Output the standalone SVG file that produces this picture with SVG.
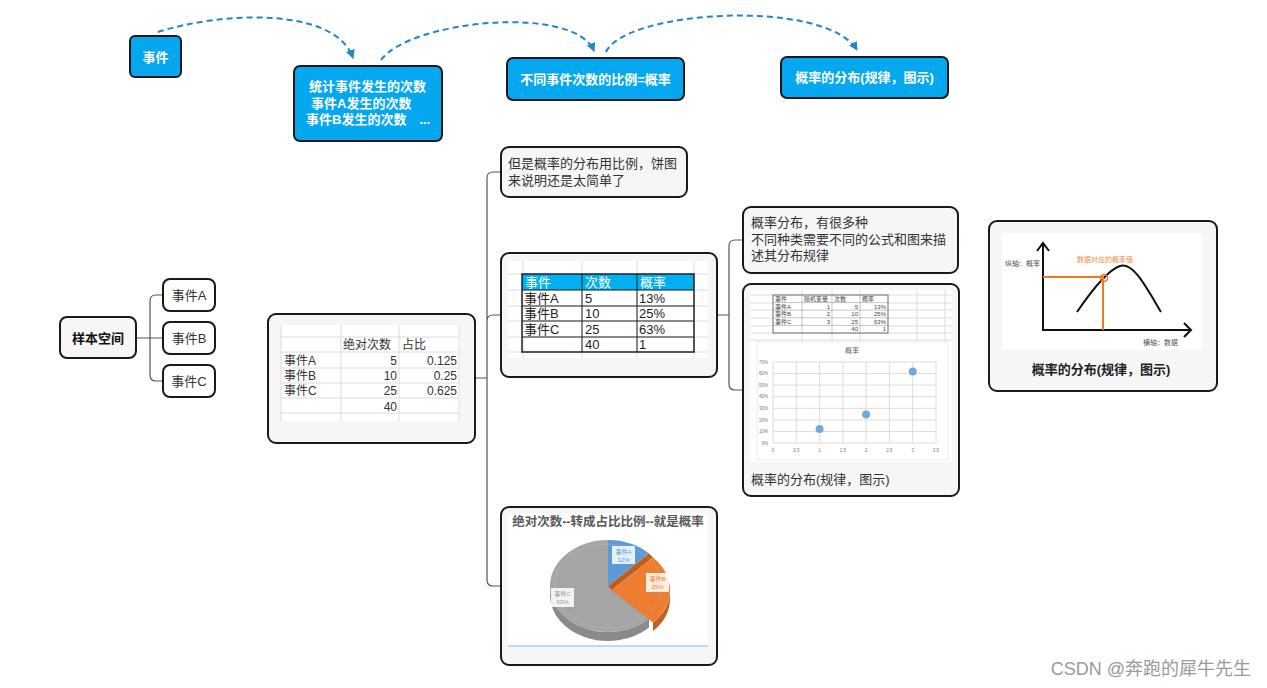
<svg xmlns="http://www.w3.org/2000/svg" width="1267" height="688" viewBox="0 0 1267 688">
<style>
text{font-family:"Liberation Sans","Noto Sans CJK SC",sans-serif;}
.blue{fill:#05A8EF;stroke:#1a1a1a;stroke-width:2;}
.bt{fill:#fff;font-size:13px;font-weight:bold;}
.gn{fill:#F6F6F6;stroke:#1a1a1a;stroke-width:2;}
.wn{fill:#fff;stroke:#1a1a1a;stroke-width:2;}
.t13{fill:#333;font-size:13px;}
.t12{fill:#333;font-size:12px;}
.grid{stroke:#DCDCDC;stroke-width:1;fill:none;}
.conn{fill:none;stroke:#555;stroke-width:1.2;}
.dash{fill:none;stroke:#1F86C9;stroke-width:2;stroke-dasharray:6 4;}
.tiny{fill:#444;font-size:6px;}
.ax{fill:#777;font-size:4.5px;}
</style>
<defs>
<marker id="ah" markerWidth="9" markerHeight="9" refX="8" refY="4.5" orient="auto" markerUnits="userSpaceOnUse">
<path d="M0,0 L9,4.5 L0,9 z" fill="#1F86C9"/>
</marker>
</defs>
<rect width="1267" height="688" fill="#fff"/>

<g id="connectors">
<path class="dash" d="M158,32 C220,12 335,6 353,58" marker-end="url(#ah)"/>
<path class="dash" d="M381,60 C410,20 575,4 594,51" marker-end="url(#ah)"/>
<path class="dash" d="M606,52 C625,10 825,-2 857,50" marker-end="url(#ah)"/>
<path class="conn" d="M136,338 H150 M163,295 H156 Q150,295 150,301 V375 Q150,381 156,381 H163 M150,338 H163"/>
<path class="conn" d="M475,378 H487 M501,172 H493 Q487,172 487,178 V580 Q487,586 493,586 H501 M487,321 Q487,315 493,315 H501"/>
<path class="conn" d="M717,315 H729 M743,240 H735 Q729,240 729,246 V384 Q729,390 735,390 H743"/>
</g>

<g id="node-shijian">
<rect class="blue" x="130" y="36" width="51" height="41" rx="5"/>
<text class="bt" x="155.5" y="61.5" text-anchor="middle">事件</text>
</g>
<g id="node-tongji">
<rect class="blue" x="294" y="66" width="148" height="75" rx="6"/>
<text class="bt" x="309" y="91">统计事件发生的次数</text>
<text class="bt" x="311" y="108">事件A发生的次数</text>
<text class="bt" x="306" y="124">事件B发生的次数　...</text>
</g>
<g id="node-bili">
<rect class="blue" x="507" y="58" width="177" height="42" rx="6"/>
<text class="bt" x="595.5" y="83.5" text-anchor="middle">不同事件次数的比例=概率</text>
</g>
<g id="node-fenbu-top">
<rect class="blue" x="781" y="57" width="167" height="41" rx="6"/>
<text class="bt" x="864.5" y="82" text-anchor="middle">概率的分布(规律，图示)</text>
</g>

<g id="node-yangben">
<rect class="gn" x="60" y="317" width="76" height="41" rx="7"/>
<text x="98" y="342.5" text-anchor="middle" style="font-size:13px;font-weight:bold;fill:#111">样本空间</text>
</g>
<g id="node-a">
<rect class="wn" x="163" y="279" width="52" height="32" rx="7"/>
<text class="t13" x="189" y="299.5" text-anchor="middle">事件A</text>
</g>
<g id="node-b">
<rect class="wn" x="163" y="322" width="52" height="32" rx="7"/>
<text class="t13" x="189" y="342.5" text-anchor="middle">事件B</text>
</g>
<g id="node-c">
<rect class="wn" x="163" y="365" width="52" height="32" rx="7"/>
<text class="t13" x="189" y="385.5" text-anchor="middle">事件C</text>
</g>

<g id="node-table1">
<rect class="gn" x="268" y="314" width="207" height="129" rx="8"/>
<rect x="281" y="325" width="179" height="96" fill="#fff"/>
<path class="grid" d="M281,325 V421 M341,325 V421 M399,325 V421 M459,325 V421 M281,337 H459 M281,352 H459 M281,368 H459 M281,383 H459 M281,398 H459 M281,413 H459"/>
<text class="t12" x="343" y="349">绝对次数</text>
<text class="t12" x="402" y="349">占比</text>
<text class="t12" x="284" y="365">事件A</text>
<text class="t12" x="284" y="380">事件B</text>
<text class="t12" x="284" y="395">事件C</text>
<text class="t12" x="397" y="365" text-anchor="end">5</text>
<text class="t12" x="397" y="380" text-anchor="end">10</text>
<text class="t12" x="397" y="395" text-anchor="end">25</text>
<text class="t12" x="397" y="411" text-anchor="end">40</text>
<text class="t12" x="457" y="365" text-anchor="end">0.125</text>
<text class="t12" x="457" y="380" text-anchor="end">0.25</text>
<text class="t12" x="457" y="395" text-anchor="end">0.625</text>
</g>

<g id="node-note1">
<rect class="gn" x="501" y="147" width="186" height="50" rx="8"/>
<text class="t13" x="508" y="168">但是概率的分布用比例，饼图</text>
<text class="t13" x="508" y="185">来说明还是太简单了</text>
</g>

<g id="node-table2">
<rect class="gn" x="501" y="253" width="216" height="124" rx="8"/>
<rect x="508" y="261" width="200" height="97" fill="#fff"/>
<path class="grid" d="M523,261 V358 M582,261 V358 M637,261 V358 M694,261 V358 M508,274 H708 M508,290 H708 M508,306 H708 M508,321 H708 M508,337 H708 M508,352 H708"/>
<rect x="522" y="274" width="172" height="16" fill="#00B0F0"/>
<path d="M522,290 H694 M522,306 H694 M522,321 H694 M522,337 H694 M582,274 V352 M637,274 V352" stroke="#222" stroke-width="1" fill="none"/>
<rect x="522" y="274" width="172" height="78" fill="none" stroke="#222" stroke-width="1.5"/>
<text x="525" y="287" style="font-size:13px;fill:#fff">事件</text>
<text x="585" y="287" style="font-size:13px;fill:#fff">次数</text>
<text x="640" y="287" style="font-size:13px;fill:#fff">概率</text>
<text class="t13" x="524" y="303" style="fill:#222">事件A</text>
<text class="t13" x="524" y="318" style="fill:#222">事件B</text>
<text class="t13" x="524" y="334" style="fill:#222">事件C</text>
<text class="t13" x="585" y="303" style="fill:#222">5</text>
<text class="t13" x="585" y="318" style="fill:#222">10</text>
<text class="t13" x="585" y="334" style="fill:#222">25</text>
<text class="t13" x="585" y="349" style="fill:#222">40</text>
<text class="t13" x="639" y="303" style="fill:#222">13%</text>
<text class="t13" x="639" y="318" style="fill:#222">25%</text>
<text class="t13" x="639" y="334" style="fill:#222">63%</text>
<text class="t13" x="639" y="349" style="fill:#222">1</text>
</g>

<g id="node-pie">
<rect class="gn" x="501" y="507" width="216" height="158" rx="8"/>
<rect x="508" y="513" width="200" height="133" fill="#fff"/>
<line x1="508" y1="646" x2="708" y2="646" stroke="#9DD5F7" stroke-width="1.5"/>
<text x="608" y="526" text-anchor="middle" style="font-size:12.5px;font-weight:bold;fill:#595959">绝对次数--转成占比比例--就是概率</text>
<path d="M649,618.5 A58,46 0 0 1 550,586 V595 A58,46 0 0 0 649,627.5 Z" fill="#8A8A8A"/>
<path d="M608,586 L649,618.5 A58,46 0 1 1 608,540 Z" fill="#A5A5A5"/>
<path d="M608,586 L608,540 A58,46 0 0 1 649,553.5 Z" fill="#5B9BD5"/>
<path d="M608,586 L649,553.5 L653,557.5 L612,590 Z" fill="#BE5E1C"/>
<path d="M608,586 L649,618.5 L653,622.5 L612,590 Z" fill="#D9701F"/>
<path d="M670,590 A58,46 0 0 1 653,622.5 V631 A58,46 0 0 0 670,598.5 Z" fill="#C0611F"/>
<path d="M612,590 L653,557.5 A58,46 0 0 1 653,622.5 Z" fill="#ED7D31"/>
<ellipse cx="608" cy="586" rx="54" ry="42" fill="none" stroke="#c4c4c4" stroke-width="0.6" opacity="0.5"/>
<rect x="612" y="546" width="23" height="18" fill="#fff" opacity="0.85"/>
<text x="623.5" y="553.5" text-anchor="middle" style="font-size:6px;fill:#5B9BD5">事件A</text>
<text x="623.5" y="561.5" text-anchor="middle" style="font-size:6px;fill:#5B9BD5">12%</text>
<rect x="646" y="573" width="23" height="19" fill="#fff" opacity="0.85"/>
<text x="657.5" y="580.5" text-anchor="middle" style="font-size:6px;fill:#ED7D31">事件B</text>
<text x="657.5" y="589" text-anchor="middle" style="font-size:6px;fill:#ED7D31">25%</text>
<rect x="551" y="588" width="23" height="19" fill="#fff" opacity="0.85"/>
<text x="562.5" y="595.5" text-anchor="middle" style="font-size:6px;fill:#999">事件C</text>
<text x="562.5" y="604" text-anchor="middle" style="font-size:6px;fill:#999">63%</text>
</g>

<g id="node-note2">
<rect class="gn" x="743" y="207" width="215" height="66" rx="8"/>
<text class="t13" x="751" y="227">概率分布，有很多种</text>
<text class="t13" x="751" y="244">不同种类需要不同的公式和图来描</text>
<text class="t13" x="751" y="260">述其分布规律</text>
</g>

<g id="node-scatter">
<rect class="gn" x="743" y="284" width="216" height="212" rx="8"/>
<rect x="750" y="290" width="202" height="172" fill="#fff"/>
<path class="grid" d="M750,295 H952 M750,303 H952 M750,310 H952 M750,318 H952 M750,326 H952 M750,333 H952 M750,340 H952 M802,290 V342 M832,290 V342 M860,290 V342 M917,290 V342 M945,290 V342"/>
<rect x="773" y="295" width="115" height="38" fill="#fff" stroke="#444" stroke-width="0.8"/>
<path d="M773,302.6 H888 M773,310.2 H888 M773,317.8 H888 M773,325.4 H888 M802,295 V333 M832,295 V333 M860,295 V333" stroke="#888" stroke-width="0.5" fill="none"/>
<text class="tiny" x="775" y="301">事件</text>
<text class="tiny" x="804" y="301">随机变量</text>
<text class="tiny" x="834" y="301">次数</text>
<text class="tiny" x="862" y="301">概率</text>
<text class="tiny" x="775" y="308.6">事件A</text>
<text class="tiny" x="775" y="316.2">事件B</text>
<text class="tiny" x="775" y="323.8">事件C</text>
<text class="tiny" x="830" y="308.6" text-anchor="end">1</text>
<text class="tiny" x="830" y="316.2" text-anchor="end">2</text>
<text class="tiny" x="830" y="323.8" text-anchor="end">3</text>
<text class="tiny" x="858" y="308.6" text-anchor="end">5</text>
<text class="tiny" x="858" y="316.2" text-anchor="end">10</text>
<text class="tiny" x="858" y="323.8" text-anchor="end">25</text>
<text class="tiny" x="858" y="331.4" text-anchor="end">40</text>
<text class="tiny" x="886" y="308.6" text-anchor="end">13%</text>
<text class="tiny" x="886" y="316.2" text-anchor="end">25%</text>
<text class="tiny" x="886" y="323.8" text-anchor="end">63%</text>
<text class="tiny" x="886" y="331.4" text-anchor="end">1</text>
<rect x="757" y="342" width="191" height="118" fill="#fff" stroke="#e6e6e6" stroke-width="0.8"/>
<text x="852" y="353" text-anchor="middle" style="font-size:7px;fill:#666">概率</text>
<path class="grid" d="M773,362 H936 M773,373.6 H936 M773,385.1 H936 M773,396.7 H936 M773,408.3 H936 M773,419.9 H936 M773,431.4 H936 M773,443 H936 M773,362 V443 M796.3,362 V443 M819.6,362 V443 M842.9,362 V443 M866.1,362 V443 M889.4,362 V443 M912.7,362 V443 M936,362 V443"/>
<text class="ax" x="768" y="364" text-anchor="end">70%</text>
<text class="ax" x="768" y="375.2" text-anchor="end">60%</text>
<text class="ax" x="768" y="386.7" text-anchor="end">50%</text>
<text class="ax" x="768" y="398.3" text-anchor="end">40%</text>
<text class="ax" x="768" y="409.9" text-anchor="end">30%</text>
<text class="ax" x="768" y="421.5" text-anchor="end">20%</text>
<text class="ax" x="768" y="433" text-anchor="end">10%</text>
<text class="ax" x="768" y="444.6" text-anchor="end">0%</text>
<text class="ax" x="773" y="451.5" text-anchor="middle">0</text>
<text class="ax" x="796.3" y="451.5" text-anchor="middle">0.5</text>
<text class="ax" x="819.6" y="451.5" text-anchor="middle">1</text>
<text class="ax" x="842.9" y="451.5" text-anchor="middle">1.5</text>
<text class="ax" x="866.1" y="451.5" text-anchor="middle">2</text>
<text class="ax" x="889.4" y="451.5" text-anchor="middle">2.5</text>
<text class="ax" x="912.7" y="451.5" text-anchor="middle">3</text>
<text class="ax" x="936" y="451.5" text-anchor="middle">3.5</text>
<circle cx="819.6" cy="429" r="4" fill="#5B9BD5" opacity="0.85"/>
<circle cx="866.1" cy="414.5" r="4" fill="#5B9BD5" opacity="0.85"/>
<circle cx="912.7" cy="371.5" r="4" fill="#5B9BD5" opacity="0.85"/>
<text class="t13" x="751" y="484">概率的分布(规律，图示)</text>
</g>

<g id="node-curve">
<rect class="gn" x="989" y="221" width="228" height="170" rx="8"/>
<rect x="1002" y="233" width="200" height="117" fill="#fff"/>
<path d="M1043,331 V243 M1037,251 L1043,243 L1049,251 M1043,330 H1191 M1184,323 L1191,330 L1184,337" fill="none" stroke="#111" stroke-width="2"/>
<path d="M1077,312 C1092,290 1108,270 1120,266 C1133,262 1145,285 1161,312" fill="none" stroke="#111" stroke-width="2"/>
<path d="M1043,277 H1103 V330" fill="none" stroke="#F07A24" stroke-width="2"/>
<circle cx="1104" cy="278" r="3.5" fill="none" stroke="#F07A24" stroke-width="1.5"/>
<text x="1077" y="262" style="font-size:7px;fill:#F08A40">数据对应的概率值</text>
<text x="1005" y="266" style="font-size:7px;fill:#555">纵轴：概率</text>
<text x="1143" y="344.5" style="font-size:7px;fill:#555">横轴：数据</text>
<text x="1101" y="373.5" text-anchor="middle" style="font-size:13px;font-weight:bold;fill:#222">概率的分布(规律，图示)</text>
</g>

<text x="1251" y="675" text-anchor="end" style="font-size:18px;fill:#9a9a9a">CSDN @奔跑的犀牛先生</text>
</svg>
